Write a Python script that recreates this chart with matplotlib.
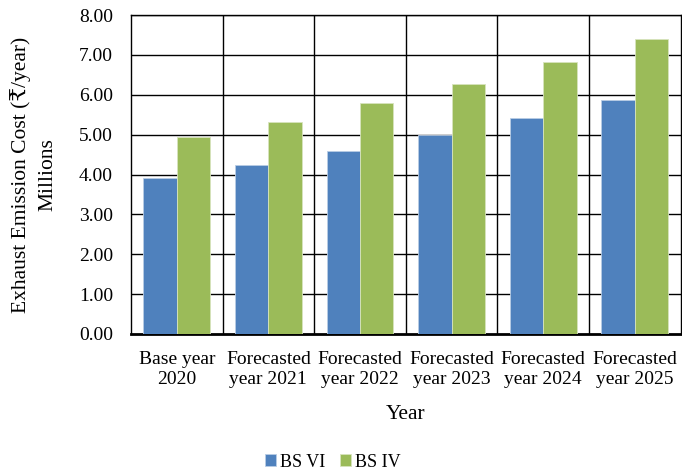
import numpy as np
import matplotlib
matplotlib.use('Agg')
import matplotlib.pyplot as plt

plt.rcParams['font.family'] = ['Liberation Serif', 'DejaVu Serif', 'DejaVu Sans']

# data (millions)
categories = ['Base year\n2020', 'Forecasted\nyear 2021', 'Forecasted\nyear 2022',
              'Forecasted\nyear 2023', 'Forecasted\nyear 2024', 'Forecasted\nyear 2025']
bs_vi = [3.91, 4.24, 4.60, 4.99, 5.41, 5.86]
bs_iv = [4.93, 5.31, 5.79, 6.28, 6.82, 7.39]
y_ticks = [0, 1, 2, 3, 4, 5, 6, 7, 8]

fig = plt.figure(figsize=(6.82, 4.71), dpi=100)
ax = fig.add_axes([0.192, 0.291, 0.806, 0.677])

x = np.arange(len(categories))
w = 0.365
ax.bar(x - w / 2, bs_vi, w, color='#4f81bd', edgecolor='#b9cde5', linewidth=0.6,
       label='BS VI', zorder=3)
ax.bar(x + w / 2, bs_iv, w, color='#9bbb59', edgecolor='#d7e4bd', linewidth=0.6,
       label='BS IV', zorder=3)

ax.set_xlim(-0.5, len(categories) - 0.5)
ax.set_ylim(0, 8)
ax.set_yticks(y_ticks)
ax.set_yticklabels([f'{v:.2f}' for v in y_ticks])
ax.set_xticks(x)
ax.set_xticklabels(categories, linespacing=1.25)

# grid: horizontal at each tick, vertical between categories
for v in y_ticks[1:]:
    ax.axhline(v, color='black', linewidth=1.0, zorder=1)
for b in np.arange(0.5, len(categories) - 0.5, 1):
    ax.axvline(b, color='black', linewidth=1.0, zorder=1)

for s in ['top', 'right', 'left']:
    ax.spines[s].set_color('black')
    ax.spines[s].set_linewidth(1.0)
ax.spines['bottom'].set_linewidth(2.0)
ax.tick_params(axis='both', length=0, labelsize=14, colors='black')
ax.tick_params(axis='y', pad=13)
ax.tick_params(axis='x', pad=12)

ax.set_xlabel('Year', fontsize=15.5, labelpad=12)
ax.set_ylabel('Exhaust Emission Cost (₹/year)\nMillions', fontsize=15.5,
              labelpad=15, linespacing=1.55)

ax.legend(loc='center', bbox_to_anchor=(0.367, -0.402), ncol=2, frameon=False,
          fontsize=13, handlelength=0.65, handleheight=0.65, handletextpad=0.2,
          columnspacing=0.8, borderpad=0.1)

fig.savefig('out.png', dpi=100)
